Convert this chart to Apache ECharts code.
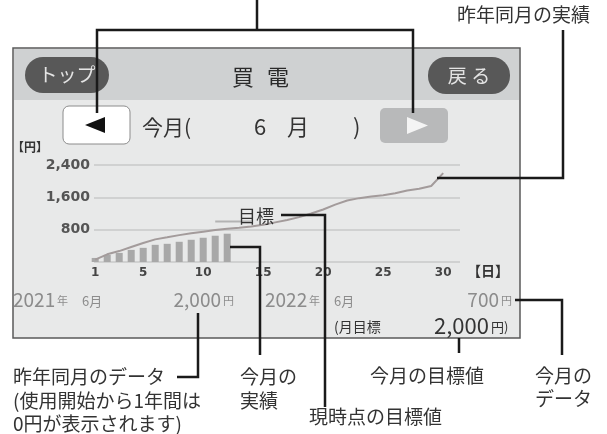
<!DOCTYPE html>
<html>
<head>
<meta charset="utf-8">
<script src="https://cdn.jsdelivr.net/npm/echarts@6/dist/echarts.min.js"></script>
<style>
html, body { margin: 0; padding: 0; background: #fff; }
#main { width: 607px; height: 434px; }
</style>
</head>
<body>
<div id="main"></div>
<script>
// days of the month (x), cumulative yen (y)
const days = [1, 2, 3, 4, 5, 6, 7, 8, 9, 10, 11, 12, 13, 14, 15, 16, 17, 18, 19, 20, 21, 22, 23, 24, 25, 26, 27, 28, 29, 30];
const lastYear = [60, 190, 270, 370, 470, 560, 610, 665, 710, 750, 790, 825, 850, 880, 920, 980, 1040, 1110, 1200, 1300, 1420, 1520, 1580, 1620, 1650, 1700, 1770, 1810, 1880, 2200];
const thisMonth = [100, 175, 225, 300, 350, 425, 450, 500, 550, 600, 650, 700];
const targetDays = [11, 12, 13, 14];
const targetValue = 1000;
const dayTicks = [1, 5, 10, 15, 20, 25, 30];
const yenTicks = [800, 1600, 2400];

const jp = '"Noto Sans CJK JP", sans-serif';
const num = '"DejaVu Sans", sans-serif';

// helpers for the drawn screen and the callouts
function txt(x, y, s, size, color, align, weight, family) {
  return {
    type: 'text', z: 50,
    style: {
      text: s, x: x, y: y,
      font: (weight || 'normal') + ' ' + size + 'px ' + (family || jp),
      fill: color, textAlign: align || 'left', textVerticalAlign: 'middle'
    }
  };
}
function seg(points) {
  return {
    type: 'polyline', z: 100,
    shape: { points: points },
    style: { stroke: '#1a1a1a', lineWidth: 2.5, fill: null }
  };
}

var myChart = echarts.init(document.getElementById('main'));

var screen = [
  { type: 'rect', z: -20, shape: { x: 13, y: 48, width: 507, height: 290 },
    style: { fill: '#e8e9e9', stroke: '#5a5a5a', lineWidth: 1.5 } },
  { type: 'rect', z: -19, shape: { x: 14, y: 49, width: 505, height: 51 },
    style: { fill: '#cfd1d2' } },
  // header buttons
  { type: 'rect', z: 10, shape: { x: 25, y: 57, width: 84, height: 36, r: 18 }, style: { fill: '#585858' } },
  txt(67, 75, 'トップ', 19, '#e4e4e4', 'center'),
  { type: 'rect', z: 10, shape: { x: 428, y: 57, width: 82, height: 37, r: 18 }, style: { fill: '#585858' } },
  txt(469, 76, '戻 る', 19, '#e4e4e4', 'center'),
  txt(243, 77, '買', 22, '#2a2a2a', 'center'),
  txt(278, 77, '電', 22, '#2a2a2a', 'center'),
  // month selector
  { type: 'rect', z: 10, shape: { x: 63, y: 106, width: 67, height: 38, r: 6 },
    style: { fill: '#ffffff', stroke: '#8c8c8c', lineWidth: 1 } },
  { type: 'polygon', z: 11, shape: { points: [[85, 125], [105, 117], [105, 133]] }, style: { fill: '#111' } },
  { type: 'rect', z: 10, shape: { x: 380, y: 108, width: 68, height: 35, r: 5 }, style: { fill: '#b8b9ba' } },
  { type: 'polygon', z: 11, shape: { points: [[407, 117], [407, 134], [428, 125.5]] }, style: { fill: '#f4f4f4' } },
  txt(142, 127, '今月(', 21, '#333'),
  txt(254, 127, '6', 22, '#333'),
  txt(287, 127, '月', 22, '#333'),
  txt(353, 127, ')', 22, '#333'),
  // chart captions
  txt(12, 147, '【円】', 12, '#333', 'left', 'bold'),
  txt(467, 271, '【日】', 14, '#333', 'left', 'bold'),
  txt(238, 216, '目標', 18, '#333'),
  // summary rows
  txt(13, 300, '2021', 19, '#8c8c8c'),
  txt(57, 301, '年', 11, '#8c8c8c'),
  txt(82, 301, '6月', 13, '#8c8c8c'),
  txt(221, 300, '2,000', 19, '#8c8c8c', 'right'),
  txt(223, 301, '円', 11, '#8c8c8c'),
  txt(265, 300, '2022', 19, '#8c8c8c'),
  txt(309, 301, '年', 11, '#8c8c8c'),
  txt(334, 301, '6月', 13, '#8c8c8c'),
  txt(499, 300, '700', 19, '#8c8c8c', 'right'),
  txt(501, 301, '円', 11, '#8c8c8c'),
  txt(334, 327, '(月目標', 14, '#333'),
  txt(489, 326, '2,000', 22, '#333', 'right'),
  txt(491, 327, '円)', 13, '#333')
];

var callouts = [
  seg([[257, 0], [257, 30]]),
  seg([[97, 113], [97, 30], [413, 30], [413, 113]]),
  seg([[437, 178], [563, 178], [563, 30]]),
  seg([[281, 215], [325, 215], [325, 407]]),
  seg([[230, 247], [260, 247], [260, 355]]),
  seg([[177, 377], [198, 377], [198, 313]]),
  seg([[459, 338], [459, 353]]),
  seg([[515, 300], [562, 300], [562, 355]]),
  txt(457, 15, '昨年同月の実績', 19, '#333'),
  txt(13, 377, '昨年同月のデータ', 19, '#333'),
  txt(13, 401, '(使用開始から1年間は', 19, '#333'),
  txt(13, 424, '0円が表示されます)', 19, '#333'),
  txt(240, 377, '今月の', 19, '#333'),
  txt(240, 401, '実績', 19, '#333'),
  txt(309, 417, '現時点の目標値', 19, '#333'),
  txt(370, 376, '今月の目標値', 19, '#333'),
  txt(535, 376, '今月の', 19, '#333'),
  txt(535, 399, 'データ', 19, '#333')
];

var option = {
  animation: false,
  textStyle: { fontFamily: jp },
  grid: { left: 94, right: 147, top: 165, bottom: 172, outerBoundsMode: 'none' },
  xAxis: {
    type: 'value',
    min: 0.9,
    max: 31.4,
    axisLine: { show: false },
    axisTick: { show: false },
    splitLine: { show: false },
    axisLabel: {
      customValues: dayTicks,
      margin: 5,
      color: '#444',
      fontFamily: num,
      fontWeight: 'bold',
      fontSize: 12
    }
  },
  yAxis: {
    type: 'value',
    min: 0,
    max: 2400,
    interval: 800,
    axisLine: { show: false },
    axisTick: { show: false },
    splitLine: { lineStyle: { color: '#c9c9c9', width: 1.5 } },
    axisLabel: {
      margin: 4,
      color: '#555',
      fontFamily: num,
      fontWeight: 'bold',
      fontSize: 14,
      formatter: function (v) { return yenTicks.indexOf(v) >= 0 ? v.toLocaleString('en-US') : ''; }
    }
  },
  series: [
    {
      name: '今月',
      type: 'bar',
      barWidth: 7,
      clip: false,
      itemStyle: { color: '#a8a8a8' },
      data: thisMonth.map(function (v, i) { return [days[i], v]; })
    },
    {
      name: '昨年同月',
      type: 'line',
      showSymbol: false,
      lineStyle: { color: '#a39b9b', width: 2 },
      data: lastYear.map(function (v, i) { return [days[i], v]; })
    },
    {
      name: '目標',
      type: 'line',
      showSymbol: false,
      lineStyle: { color: '#b3b3b3', width: 2 },
      data: targetDays.map(function (d) { return [d, targetValue]; })
    }
  ],
  graphic: screen.concat(callouts)
};
option && myChart.setOption(option);
</script>
</body>
</html>
